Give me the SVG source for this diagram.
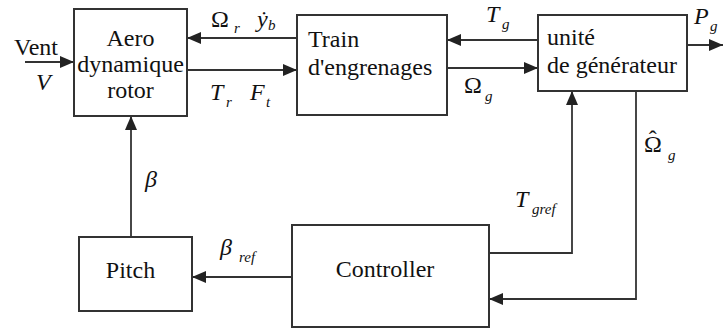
<svg xmlns="http://www.w3.org/2000/svg" width="723" height="329" viewBox="0 0 723 329">
<style>
.box{fill:#fff;stroke:#333;stroke-width:2}
.ln{fill:none;stroke:#333;stroke-width:1.8}
text{font-family:'Liberation Serif','DejaVu Serif',serif;fill:#111}
.t{font-size:24px}
.m{font-size:24px;font-style:italic}
.g{font-size:24px;font-style:normal}
.s{font-size:15px;font-style:italic}
</style>
<defs>
<marker id="ah" markerUnits="userSpaceOnUse" markerWidth="14" markerHeight="12" viewBox="0 0 14 12" refX="14" refY="6" orient="auto">
<path d="M0,0 L14,6 L0,12 Z" fill="#222"/>
</marker>
</defs>
<rect width="723" height="329" fill="#fff"/>
<g id="connectors">
<path class="ln" d="M25,62 H74" marker-end="url(#ah)"/>
<path class="ln" d="M297,38 H187" marker-end="url(#ah)"/>
<path class="ln" d="M187,70 H297" marker-end="url(#ah)"/>
<path class="ln" d="M538,40 H447" marker-end="url(#ah)"/>
<path class="ln" d="M447,68 H538" marker-end="url(#ah)"/>
<path class="ln" d="M687,45 H723" marker-end="url(#ah)"/>
<path class="ln" d="M131,237 V116" marker-end="url(#ah)"/>
<path class="ln" d="M292,277 H192" marker-end="url(#ah)"/>
<path class="ln" d="M489,253 H572 V91" marker-end="url(#ah)"/>
<path class="ln" d="M636,91 V299 H489" marker-end="url(#ah)"/>
</g>
<g id="aero">
<rect class="box" x="74" y="9" width="113" height="107"/>
<text class="t" x="130.5" y="46" text-anchor="middle">Aero</text>
<text class="t" x="130.5" y="72" text-anchor="middle">dynamique</text>
<text class="t" x="130.5" y="98" text-anchor="middle">rotor</text>
</g>
<g id="train">
<rect class="box" x="297" y="15" width="150" height="100"/>
<text class="t" x="308" y="47">Train</text>
<text class="t" x="308" y="75">d'engrenages</text>
</g>
<g id="generateur">
<rect class="box" x="538" y="15" width="149" height="76"/>
<text class="t" x="547" y="45">unité</text>
<text class="t" x="547" y="73">de générateur</text>
</g>
<g id="pitch">
<rect class="box" x="79" y="237" width="113" height="74"/>
<text class="t" x="130.5" y="278" text-anchor="middle">Pitch</text>
</g>
<g id="controller">
<rect class="box" x="292" y="225" width="197" height="102"/>
<text class="t" x="385" y="277" text-anchor="middle">Controller</text>
</g>
<g id="labels">
<text class="t" x="14" y="55">Vent</text>
<text class="m" x="36" y="90">V</text>
<text class="g" x="211" y="27">Ω</text><text class="s" x="234" y="33">r</text>
<text class="m" x="257" y="27">ẏ</text><text class="s" x="268" y="30">b</text>
<text class="m" x="210" y="100">T</text><text class="s" x="226" y="107">r</text>
<text class="m" x="250" y="100">F</text><text class="s" x="266" y="107">t</text>
<text class="m" x="486" y="22">T</text><text class="s" x="502" y="29">g</text>
<text class="g" x="464" y="93">Ω</text><text class="s" x="485" y="101">g</text>
<text class="m" x="694" y="24">P</text><text class="s" x="710" y="31">g</text>
<text class="g" x="644" y="152">Ω<tspan dx="-13.2" dy="-5">ˆ</tspan></text><text class="s" x="668" y="160">g</text>
<text class="m" x="515" y="207">T</text><text class="s" x="532" y="214">gref</text>
<text class="m" x="145" y="187">β</text>
<text class="m" x="220" y="255">β</text><text class="s" x="239" y="262">ref</text>
</g>
</svg>
